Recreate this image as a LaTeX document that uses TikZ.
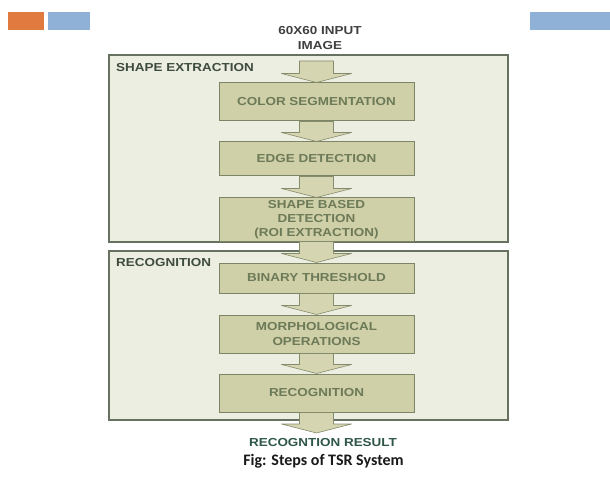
\documentclass[tikz,border=0pt]{standalone}
\usepackage{fontspec}
\usetikzlibrary{calc}
\newfontfamily\arb[FakeStretch=1.16]{Liberation Sans}
\newfontfamily\capfont{Carlito}
\definecolor{orng}{HTML}{E07A3F}
\definecolor{lblue}{HTML}{8FB1D7}
\definecolor{outfill}{HTML}{EDEEE2}
\definecolor{outdraw}{HTML}{66725F}
\definecolor{stepfill}{HTML}{D0D0A8}
\definecolor{stepdraw}{HTML}{7C8566}
\definecolor{steptext}{HTML}{6C7A58}
\definecolor{arrfill}{HTML}{D6D5B1}
\definecolor{arrdraw}{HTML}{858C6C}
\definecolor{labtext}{HTML}{3E4C3E}
\definecolor{restext}{HTML}{2F5747}
\tikzset{
  outbox/.style={draw=outdraw,fill=outfill,line width=1.3pt,minimum width=399pt,inner sep=0pt},
  stepbox/.style={draw=stepdraw,fill=stepfill,line width=1pt,minimum width=195pt,inner sep=0pt,
    align=center,text=steptext,font=\arb\bfseries\fontsize{11.6}{14.3}\selectfont},
  grouplabel/.style={anchor=west,inner sep=0pt,text=labtext,font=\arb\bfseries\fontsize{11.6}{14}\selectfont},
  blockarr/.style={fill=arrfill,draw=arrdraw,line width=0.6pt,line join=round},
  topbar/.style={inner sep=0pt,minimum height=18pt}
}
\newcommand\blkarrow[2]{%
  \path[blockarr] let \p1=(#1), \p2=(#2) in
    (\x1-17pt,\y1) -- (\x1+17pt,\y1) -- (\x1+17pt,\y2+9pt) -- (\x1+35pt,\y2+9pt)
    -- (\x1,\y2) -- (\x1-35pt,\y2+9pt) -- (\x1-17pt,\y2+9pt) -- cycle;}
\begin{document}
\begin{tikzpicture}[x=1pt,y=-1pt]
\useasboundingbox[fill=white] (0,0) rectangle (610,481);
% top decoration bars
\node[topbar,fill=orng,minimum width=36pt] (bar1) at (26,21) {};
\node[topbar,fill=lblue,minimum width=42pt] (bar2) at (69,21) {};
\node[topbar,fill=lblue,minimum width=80pt] (bar3) at (570,21) {};
% title
\node[align=center,inner sep=0pt,text=black!75,font=\arb\bfseries\fontsize{11.6}{15}\selectfont] (title) at (320,38.5) {60X60 INPUT\\IMAGE};
% group boxes
\node[outbox,minimum height=187pt] (g1) at (308.5,148.5) {};
\node[outbox,minimum height=169pt] (g2) at (308.5,335.5) {};
\node[grouplabel] (l1) at (116,67.5) {SHAPE EXTRACTION};
\node[grouplabel] (l2) at (116,263) {RECOGNITION};
% steps
\node[stepbox,minimum height=38pt] (cs) at (316.5,102) {COLOR SEGMENTATION};
\node[stepbox,minimum height=34pt] (ed) at (316.5,159) {EDGE DETECTION};
\node[stepbox,minimum height=43pt] (sb) at (316.5,219.5) {SHAPE BASED\\DETECTION\\(ROI EXTRACTION)};
\node[stepbox,minimum height=30pt] (bt) at (316.5,278) {BINARY THRESHOLD};
\node[stepbox,minimum height=38pt] (mo) at (316.5,334) {MORPHOLOGICAL\\OPERATIONS};
\node[stepbox,minimum height=38pt] (rc) at (316.5,393) {RECOGNITION};
\coordinate (in) at (316.5,61);
\coordinate (out) at (316.5,433);
% arrows
\blkarrow{in}{cs.north}
\blkarrow{cs.south}{ed.north}
\blkarrow{ed.south}{sb.north}
\blkarrow{sb.south}{bt.north}
\blkarrow{bt.south}{mo.north}
\blkarrow{mo.south}{rc.north}
\blkarrow{rc.south}{out}
% result and caption
\node[inner sep=0pt,text=restext,font=\arb\bfseries\fontsize{11.6}{14}\selectfont] (res) at (323,443) {RECOGNTION RESULT};
\node[inner sep=0pt,text=black!90,font=\capfont\bfseries\fontsize{16}{18}\selectfont] (cap) at (323.5,461) {Fig: Steps of TSR System};
\end{tikzpicture}
\end{document}
